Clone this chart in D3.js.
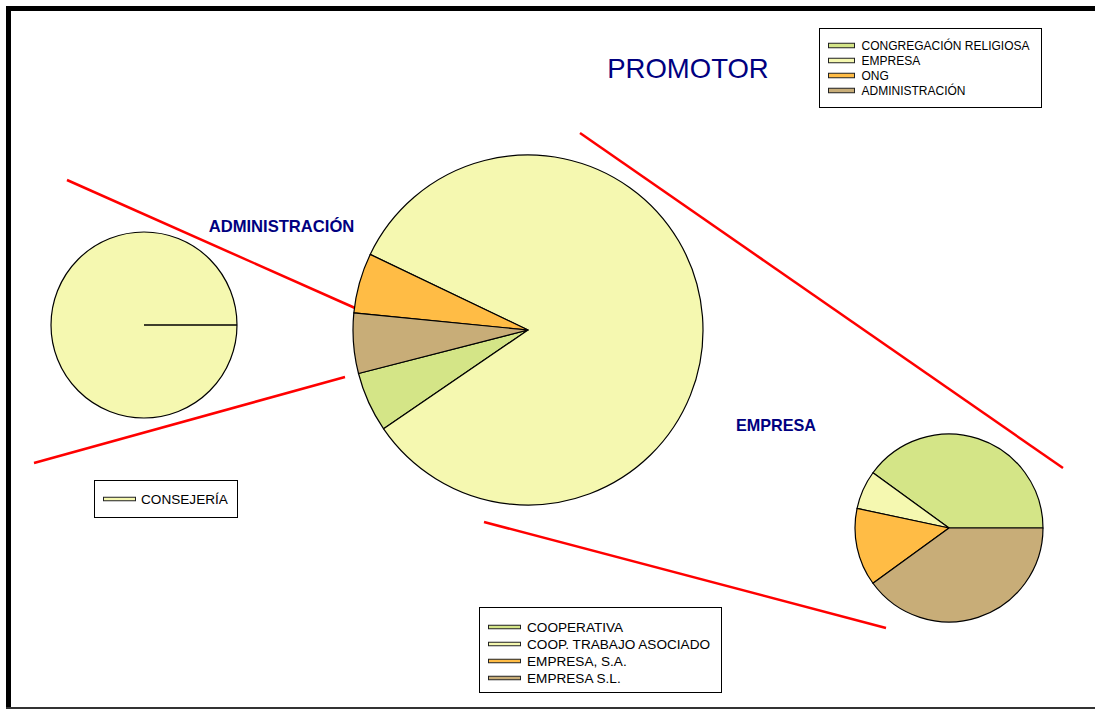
<!DOCTYPE html>
<html>
<head>
<meta charset="utf-8">
<script src="https://cdn.jsdelivr.net/npm/d3@7"></script>
<style>
  body { margin: 0; background: #fff; }
  text { font-family: "Liberation Sans", Arial, sans-serif; }
</style>
</head>
<body>
<div id="chart"></div>
<script>
// data
var promotorCats = ["CONGREGACIÓN RELIGIOSA", "EMPRESA", "ONG", "ADMINISTRACIÓN"];
var promotorVals = [1, 15, 1, 1];
var adminCats = ["CONSEJERÍA"];
var adminVals = [1];
var empresaCats = ["COOPERATIVA", "COOP. TRABAJO ASOCIADO", "EMPRESA, S.A.", "EMPRESA S.L."];
var empresaVals = [6, 1, 2, 6];

var palette = ["#d4e587", "#f5f8b0", "#ffbc45", "#c8ad78"];
var navy = "#000080";

var width = 1095, height = 709;

var svg = d3.select("#chart").append("svg")
    .attr("width", width)
    .attr("height", height);

// frame
svg.append("rect").attr("x", 6).attr("y", 6).attr("width", width - 6).attr("height", 5).attr("fill", "#000");
svg.append("rect").attr("x", 6).attr("y", 6).attr("width", 5).attr("height", height - 6).attr("fill", "#000");
svg.append("rect").attr("x", 6).attr("y", 707).attr("width", width - 6).attr("height", 2).attr("fill", "#333");

// connector lines
var connectors = [
  [[67, 180], [355, 308]],
  [[34, 463], [345, 377]],
  [[580, 133], [1063, 468]],
  [[484, 522], [886, 628]]
];
svg.selectAll(".conn").data(connectors).enter().append("line")
    .attr("class", "conn")
    .attr("x1", function(d) { return d[0][0]; })
    .attr("y1", function(d) { return d[0][1]; })
    .attr("x2", function(d) { return d[1][0]; })
    .attr("y2", function(d) { return d[1][1]; })
    .attr("stroke", "#ff0000")
    .attr("stroke-width", 2.5);

var deg = Math.PI / 180;

function drawPie(cx, cy, r, vals, colors, start, radiusLine) {
  var pie = d3.pie().sort(null)
      .startAngle(start * deg)
      .endAngle(start * deg - 2 * Math.PI);
  var arc = d3.arc().innerRadius(0).outerRadius(r);
  var g = svg.append("g").attr("transform", "translate(" + cx + "," + cy + ")");
  var arcs = pie(vals);
  g.selectAll("path").data(arcs).enter().append("path")
      .attr("d", arc)
      .attr("fill", function(d, i) { return colors[i]; })
      .attr("stroke", "#000")
      .attr("stroke-width", 1.2)
      .attr("stroke-linejoin", "round");
  if (radiusLine) {
    var a = arcs[0].startAngle;
    g.append("line")
        .attr("x1", 0).attr("y1", 0)
        .attr("x2", r * Math.sin(a)).attr("y2", -r * Math.cos(a))
        .attr("stroke", "#000").attr("stroke-width", 1.5);
  }
}

drawPie(528, 330, 175, promotorVals, palette, -104.4, false);
drawPie(144, 325, 93, adminVals, [palette[1]], 90, true);
drawPie(949, 528, 94, empresaVals, palette, 90, false);

// titles
svg.append("text").attr("x", 688).attr("y", 78)
    .attr("text-anchor", "middle").attr("font-size", 27.5)
    .attr("fill", navy).text("PROMOTOR");
svg.append("text").attr("x", 281.5).attr("y", 232)
    .attr("text-anchor", "middle").attr("font-size", 16.6).attr("font-weight", "bold")
    .attr("fill", navy).text("ADMINISTRACIÓN");
svg.append("text").attr("x", 776).attr("y", 431)
    .attr("text-anchor", "middle").attr("font-size", 16.2).attr("font-weight", "bold")
    .attr("fill", navy).text("EMPRESA");

// legends
function legend(x0, y0, w, h, cats, colors, opts) {
  var g = svg.append("g");
  g.append("rect").attr("x", x0 + 0.5).attr("y", y0 + 0.5).attr("width", w).attr("height", h)
      .attr("fill", "#fff").attr("stroke", "#000").attr("stroke-width", 1);
  var rows = g.selectAll(".row").data(cats).enter().append("g")
      .attr("transform", function(d, i) {
        return "translate(0," + (opts.first + i * opts.step) + ")";
      });
  rows.append("rect")
      .attr("x", opts.sx).attr("y", -opts.sh / 2)
      .attr("width", opts.sw).attr("height", opts.sh)
      .attr("fill", function(d, i) { return colors[i]; })
      .attr("stroke", "#222").attr("stroke-width", 1);
  rows.append("text")
      .attr("x", opts.tx).attr("y", opts.fs * 0.36)
      .attr("font-size", opts.fs).attr("fill", "#000")
      .text(function(d) { return d; });
}

legend(819, 28, 222, 79, promotorCats, palette,
    {first: 45.5, step: 15, sx: 828.5, sw: 26, sh: 4.5, tx: 861.5, fs: 12});
legend(479, 607, 242, 85, empresaCats, palette,
    {first: 627, step: 17, sx: 488.5, sw: 32, sh: 3.5, tx: 527, fs: 13.6});
legend(94, 480, 143, 37, adminCats, [palette[1]],
    {first: 499, step: 17, sx: 103.5, sw: 32, sh: 3.5, tx: 141, fs: 13.6});
</script>
</body>
</html>
